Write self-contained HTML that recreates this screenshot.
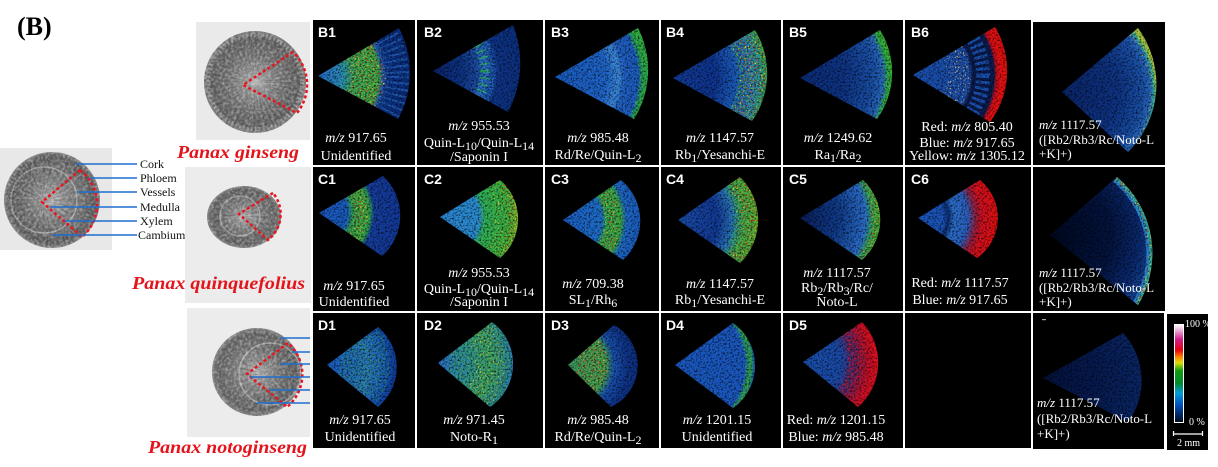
<!DOCTYPE html>
<html><head><meta charset="utf-8"><style>
html,body{margin:0;padding:0;background:#fff;}
svg{display:block;}
.c{fill:#fff;font-size:14px;font-family:"Liberation Serif",serif;}
.m{text-anchor:middle;}
.i{font-style:italic;}
.lb{font-family:"Liberation Sans",sans-serif;font-weight:bold;font-size:14px;fill:#fff;}
.sp{font-family:"Liberation Serif",serif;font-weight:bold;font-style:italic;font-size:18px;fill:#e3141b;}
.tl{font-family:"Liberation Serif",serif;font-size:12px;fill:#111;}
</style></head><body>
<svg width="1218" height="467" viewBox="0 0 1218 467" xmlns="http://www.w3.org/2000/svg">
<defs>
<filter id="dk" filterUnits="userSpaceOnUse" x="0" y="0" width="1218" height="467" color-interpolation-filters="sRGB">
<feTurbulence type="fractalNoise" baseFrequency="0.55" numOctaves="2" seed="2" result="n"/>
<feColorMatrix in="n" type="matrix" values="0 0 0 0 0  0 0 0 0 0  0 0 0 0 0  2.1 0 0 0 -0.95" result="a"/>
<feComposite in="SourceGraphic" in2="a" operator="in"/>
</filter>
<filter id="lt" filterUnits="userSpaceOnUse" x="0" y="0" width="1218" height="467" color-interpolation-filters="sRGB">
<feTurbulence type="fractalNoise" baseFrequency="0.35" numOctaves="2" seed="9" result="n"/>
<feColorMatrix in="n" type="matrix" values="0 0 0 0 0  0 0 0 0 0  0 0 0 0 0  2.0 0 0 0 -0.8" result="a"/>
<feComposite in="SourceGraphic" in2="a" operator="in"/>
</filter>
<filter id="hot" filterUnits="userSpaceOnUse" x="0" y="0" width="1218" height="467" color-interpolation-filters="sRGB">
<feTurbulence type="fractalNoise" baseFrequency="0.6" numOctaves="1" seed="7" result="n"/>
<feColorMatrix in="n" type="matrix" values="0 0 0 0 0  0 0 0 0 0  0 0 0 0 0  8 0 0 0 -4.8" result="a"/>
<feComposite in="SourceGraphic" in2="a" operator="in"/>
</filter>
<filter id="hot2" filterUnits="userSpaceOnUse" x="0" y="0" width="1218" height="467" color-interpolation-filters="sRGB">
<feTurbulence type="fractalNoise" baseFrequency="0.6" numOctaves="1" seed="11" result="n"/>
<feColorMatrix in="n" type="matrix" values="0 0 0 0 0  0 0 0 0 0  0 0 0 0 0  8 0 0 0 -4.9" result="a"/>
<feComposite in="SourceGraphic" in2="a" operator="in"/>
</filter>
<filter id="med" filterUnits="userSpaceOnUse" x="0" y="0" width="1218" height="467" color-interpolation-filters="sRGB">
<feTurbulence type="fractalNoise" baseFrequency="0.5" numOctaves="1" seed="4" result="n"/>
<feColorMatrix in="n" type="matrix" values="0 0 0 0 0  0 0 0 0 0  0 0 0 0 0  5 0 0 0 -2.4" result="a"/>
<feComposite in="SourceGraphic" in2="a" operator="in"/>
</filter>

<radialGradient id="ph" cx="0.5" cy="0.5" r="0.5">
<stop offset="0" stop-color="#b0b0b0"/><stop offset="0.25" stop-color="#8e8e8e"/><stop offset="0.6" stop-color="#6c6c6c"/><stop offset="0.88" stop-color="#5c5c5c"/><stop offset="1" stop-color="#808080"/>
</radialGradient>

<linearGradient id="cbar" x1="0" y1="0" x2="0" y2="1">
<stop offset="0" stop-color="#ffffff"/><stop offset="0.07" stop-color="#e8a0d0"/><stop offset="0.15" stop-color="#d0208a"/><stop offset="0.26" stop-color="#e80010"/><stop offset="0.33" stop-color="#ff8000"/><stop offset="0.39" stop-color="#e0e000"/><stop offset="0.47" stop-color="#10a010"/><stop offset="0.6" stop-color="#008a30"/><stop offset="0.7" stop-color="#00a0d8"/><stop offset="0.82" stop-color="#0050c0"/><stop offset="1" stop-color="#000818"/>
</linearGradient>

<radialGradient id="gB1" gradientUnits="userSpaceOnUse" cx="318" cy="76" r="93"><stop offset="0" stop-color="#2468c8"/><stop offset="0.25" stop-color="#2a8ab8"/><stop offset="0.4" stop-color="#38a858"/><stop offset="0.65" stop-color="#3aa84a"/><stop offset="0.7" stop-color="#1a58b8"/><stop offset="0.76" stop-color="#0c3288"/><stop offset="1" stop-color="#0a2c7c"/></radialGradient>
<radialGradient id="gB2" gradientUnits="userSpaceOnUse" cx="433" cy="71" r="88"><stop offset="0" stop-color="#0a2470"/><stop offset="0.35" stop-color="#0e3484"/><stop offset="0.5" stop-color="#1a4aa0"/><stop offset="0.58" stop-color="#2a6cc0"/><stop offset="0.66" stop-color="#1a50a8"/><stop offset="0.75" stop-color="#0e3488"/><stop offset="1" stop-color="#0c3080"/></radialGradient>
<radialGradient id="gB3" gradientUnits="userSpaceOnUse" cx="555" cy="77" r="93"><stop offset="0" stop-color="#1a5cc0"/><stop offset="0.55" stop-color="#1e64c8"/><stop offset="0.68" stop-color="#3a84d8"/><stop offset="0.75" stop-color="#2060c4"/><stop offset="0.9" stop-color="#1c5cc0"/><stop offset="0.95" stop-color="#28a050"/><stop offset="1" stop-color="#30b040"/></radialGradient>
<radialGradient id="gB4" gradientUnits="userSpaceOnUse" cx="673" cy="78" r="94"><stop offset="0" stop-color="#123c98"/><stop offset="0.45" stop-color="#0e3490"/><stop offset="0.65" stop-color="#1a58b8"/><stop offset="0.85" stop-color="#2a78c0"/><stop offset="0.93" stop-color="#2c90a0"/><stop offset="1" stop-color="#30a050"/></radialGradient>
<radialGradient id="gB5" gradientUnits="userSpaceOnUse" cx="800" cy="78" r="92"><stop offset="0" stop-color="#0c2c7a"/><stop offset="0.5" stop-color="#0e3484"/><stop offset="0.8" stop-color="#1a50a8"/><stop offset="0.92" stop-color="#2a6cc0"/><stop offset="0.96" stop-color="#30b040"/><stop offset="1" stop-color="#38b030"/></radialGradient>
<radialGradient id="gB6" gradientUnits="userSpaceOnUse" cx="913" cy="75" r="94"><stop offset="0" stop-color="#1a50b0"/><stop offset="0.6" stop-color="#1a4ca8"/><stop offset="0.64" stop-color="#0a1a48"/><stop offset="0.86" stop-color="#0a1c50"/><stop offset="0.89" stop-color="#c01020"/><stop offset="0.93" stop-color="#e81010"/><stop offset="1" stop-color="#e01010"/></radialGradient>
<radialGradient id="gB7" gradientUnits="userSpaceOnUse" cx="1062" cy="92" r="95"><stop offset="0" stop-color="#0a2468"/><stop offset="0.6" stop-color="#0e3484"/><stop offset="0.85" stop-color="#1a50a8"/><stop offset="0.94" stop-color="#2a6cc0"/><stop offset="0.97" stop-color="#30b0a0"/><stop offset="1" stop-color="#a0c040"/></radialGradient>

<radialGradient id="gC1" gradientUnits="userSpaceOnUse" cx="319" cy="213" r="81"><stop offset="0" stop-color="#1a58c0"/><stop offset="0.35" stop-color="#1a5cc0"/><stop offset="0.42" stop-color="#30a050"/><stop offset="0.55" stop-color="#40b040"/><stop offset="0.63" stop-color="#30a050"/><stop offset="0.68" stop-color="#163e9c"/><stop offset="1" stop-color="#12389a"/></radialGradient>
<radialGradient id="gC2" gradientUnits="userSpaceOnUse" cx="440" cy="217" r="78"><stop offset="0" stop-color="#2a84d4"/><stop offset="0.5" stop-color="#2a8cd0"/><stop offset="0.58" stop-color="#30b058"/><stop offset="0.9" stop-color="#38b040"/><stop offset="1" stop-color="#80c030"/></radialGradient>
<radialGradient id="gC3" gradientUnits="userSpaceOnUse" cx="563" cy="220" r="77"><stop offset="0" stop-color="#1a60c8"/><stop offset="0.5" stop-color="#1e6cc8"/><stop offset="0.57" stop-color="#30a850"/><stop offset="0.75" stop-color="#38a848"/><stop offset="0.82" stop-color="#1e68c4"/><stop offset="1" stop-color="#1a5cc0"/></radialGradient>
<radialGradient id="gC4" gradientUnits="userSpaceOnUse" cx="678" cy="220" r="80"><stop offset="0" stop-color="#1a4ca8"/><stop offset="0.5" stop-color="#123a98"/><stop offset="0.7" stop-color="#2a78b8"/><stop offset="0.82" stop-color="#40a848"/><stop offset="1" stop-color="#60b030"/></radialGradient>
<radialGradient id="gC5" gradientUnits="userSpaceOnUse" cx="800" cy="218" r="80"><stop offset="0" stop-color="#0a1e5c"/><stop offset="0.5" stop-color="#103c8c"/><stop offset="0.82" stop-color="#2a6cc8"/><stop offset="0.9" stop-color="#30a060"/><stop offset="1" stop-color="#40b030"/></radialGradient>
<radialGradient id="gC6" gradientUnits="userSpaceOnUse" cx="918" cy="218" r="80"><stop offset="0" stop-color="#1a54b8"/><stop offset="0.32" stop-color="#1a54b8"/><stop offset="0.38" stop-color="#0c2c70"/><stop offset="0.45" stop-color="#2a6cc8"/><stop offset="0.62" stop-color="#2a60c0"/><stop offset="0.72" stop-color="#902040"/><stop offset="0.8" stop-color="#d01020"/><stop offset="1" stop-color="#e01010"/></radialGradient>
<radialGradient id="gC7" gradientUnits="userSpaceOnUse" cx="1050" cy="235" r="112"><stop offset="0" stop-color="#000820"/><stop offset="0.55" stop-color="#041440"/><stop offset="0.8" stop-color="#0a2a70"/><stop offset="1" stop-color="#1a50a8"/></radialGradient>

<radialGradient id="gD1" gradientUnits="userSpaceOnUse" cx="327" cy="365" r="70"><stop offset="0" stop-color="#1a5cc0"/><stop offset="0.4" stop-color="#2068c0"/><stop offset="0.6" stop-color="#2a78c0"/><stop offset="0.8" stop-color="#1a5cc0"/><stop offset="1" stop-color="#0e3c98"/></radialGradient>
<radialGradient id="gD2" gradientUnits="userSpaceOnUse" cx="438" cy="363" r="75"><stop offset="0" stop-color="#2a70c8"/><stop offset="0.4" stop-color="#2e90a0"/><stop offset="0.7" stop-color="#38a070"/><stop offset="1" stop-color="#2a80b0"/></radialGradient>
<radialGradient id="gD3" gradientUnits="userSpaceOnUse" cx="568" cy="365" r="75"><stop offset="0" stop-color="#3a9a60"/><stop offset="0.5" stop-color="#40a050"/><stop offset="0.62" stop-color="#1a50b0"/><stop offset="0.8" stop-color="#0e3488"/><stop offset="1" stop-color="#0a2c80"/></radialGradient>
<radialGradient id="gD4" gradientUnits="userSpaceOnUse" cx="675" cy="365" r="80"><stop offset="0" stop-color="#1a58c0"/><stop offset="0.88" stop-color="#1a58c0"/><stop offset="0.94" stop-color="#30a050"/><stop offset="1" stop-color="#1a58c0"/></radialGradient>
<radialGradient id="gD5" gradientUnits="userSpaceOnUse" cx="803" cy="362" r="75"><stop offset="0" stop-color="#1a50b0"/><stop offset="0.5" stop-color="#1a4aa8"/><stop offset="0.7" stop-color="#50286a"/><stop offset="0.88" stop-color="#c01028"/><stop offset="1" stop-color="#e81020"/></radialGradient>
<radialGradient id="gD7" gradientUnits="userSpaceOnUse" cx="1043" cy="378" r="105"><stop offset="0" stop-color="#04123c"/><stop offset="0.5" stop-color="#061a50"/><stop offset="1" stop-color="#0a2868"/></radialGradient>

<clipPath id="kB1"><path d="M318,76 L399,28 A96,96 0 0 1 398,119 Z"/></clipPath>
<clipPath id="kB2"><path d="M433,71 L513,25 A104,104 0 0 1 508,112 Z"/></clipPath>
<clipPath id="kB3"><path d="M555,77 L638,28 A92,92 0 0 1 634,119 Z"/></clipPath>
<clipPath id="kB4"><path d="M673,78 L755,30 A83,83 0 0 1 752,121 Z"/></clipPath>
<clipPath id="kB5"><path d="M800,78 L880,30 A80,80 0 0 1 877,119 Z"/></clipPath>
<clipPath id="kB6"><path d="M913,75 L995,27 A85,85 0 0 1 990,122 Z"/></clipPath>
<clipPath id="kB7"><path d="M1062,92 L1138,28 A95,95 0 0 1 1128,152 Z"/></clipPath>
<clipPath id="kC1"><path d="M319,213 L383,176 A54,54 0 0 1 382,256 Z"/></clipPath>
<clipPath id="kC2"><path d="M440,217 L500,180 A51,51 0 0 1 500,258 Z"/></clipPath>
<clipPath id="kC3"><path d="M563,220 L621,180 A53,53 0 0 1 623,260 Z"/></clipPath>
<clipPath id="kC4"><path d="M678,220 L740,177 A60,60 0 0 1 740,263 Z"/></clipPath>
<clipPath id="kC5"><path d="M800,218 L863,180 A54,54 0 0 1 862,260 Z"/></clipPath>
<clipPath id="kC6"><path d="M918,218 L980,180 A49,49 0 0 1 977,258 Z"/></clipPath>
<clipPath id="kC7"><path d="M1050,235 L1117,177 A100,100 0 0 1 1138,305 Z"/></clipPath>
<clipPath id="kD1"><path d="M327,365 L378,327 A52,52 0 0 1 378,407 Z"/></clipPath>
<clipPath id="kD2"><path d="M438,363 L492,322 A52,52 0 0 1 490,407 Z"/></clipPath>
<clipPath id="kD3"><path d="M568,365 L614,325 A46,46 0 0 1 611,407 Z"/></clipPath>
<clipPath id="kD4"><path d="M675,365 L733,323 A52,52 0 0 1 733,408 Z"/></clipPath>
<clipPath id="kD5"><path d="M803,362 L862,322 A59,59 0 0 1 858,407 Z"/></clipPath>
<clipPath id="kD7"><path d="M1043,378 L1123,333 A70,70 0 0 1 1128,422 Z"/></clipPath>

<clipPath id="p1"><circle cx="255" cy="82" r="51"/></clipPath>
<clipPath id="p2"><circle cx="52" cy="200" r="48"/></clipPath>
<clipPath id="p3"><ellipse cx="244" cy="217" rx="37" ry="31"/></clipPath>
<clipPath id="p4"><ellipse cx="257" cy="372" rx="45" ry="44"/></clipPath>
</defs>

<rect width="1218" height="467" fill="#fff"/>

<text x="17" y="35" font-family="Liberation Serif, serif" font-weight="bold" font-size="26" fill="#000">(B)</text>

<!-- top ginseng -->
<rect x="196" y="22" width="114" height="118" fill="#eaeaea"/>
<circle cx="255" cy="82" r="51" fill="url(#ph)"/>
<g clip-path="url(#p1)">
<circle cx="255" cy="82" r="28" fill="none" stroke="#303030" stroke-opacity="0.22" stroke-width="46" stroke-dasharray="1.5 2.5"/>
<circle cx="255" cy="82" r="47" fill="none" stroke="#b0b0b0" stroke-opacity="0.45" stroke-width="4" stroke-dasharray="2 2"/>
<rect x="196" y="22" width="114" height="118" fill="#fff" opacity="0.45" filter="url(#lt)"/>
</g>
<path d="M293,52 L243,85 L297,113 A45,45 0 0 0 293,52" fill="none" stroke="#e8141e" stroke-width="2.5" stroke-dasharray="3 2.5"/>
<text class="sp" x="177" y="158" textLength="122" lengthAdjust="spacingAndGlyphs">Panax ginseng</text>

<!-- left labeled -->
<rect x="0" y="148" width="112" height="102" fill="#e8e8e8"/>
<circle cx="52" cy="200" r="48" fill="url(#ph)"/>
<g clip-path="url(#p2)">
<circle cx="44" cy="200" r="18" fill="none" stroke="#303030" stroke-opacity="0.22" stroke-width="32" stroke-dasharray="1.5 2.5"/>
<circle cx="44" cy="200" r="33" fill="none" stroke="#c8c8c8" stroke-opacity="0.55" stroke-width="1.5"/>
<circle cx="52" cy="200" r="42" fill="none" stroke="#333" stroke-opacity="0.25" stroke-width="10" stroke-dasharray="1.5 2"/>
<rect x="0" y="148" width="112" height="102" fill="#fff" opacity="0.45" filter="url(#lt)"/>
</g>
<path d="M80,170 L42,202 L82,237 A43,43 0 0 0 80,170" fill="none" stroke="#e8141e" stroke-width="2.5" stroke-dasharray="3 2.5"/>
<g stroke="#1e6fd0" stroke-width="1.6">
<line x1="76" y1="164" x2="137" y2="164"/>
<line x1="90" y1="178" x2="137" y2="178"/>
<line x1="77" y1="192" x2="137" y2="192"/>
<line x1="50" y1="207" x2="137" y2="207"/>
<line x1="65" y1="221" x2="137" y2="221"/>
<line x1="52" y1="235" x2="137" y2="235"/>
</g>
<text class="tl" x="140" y="168">Cork</text>
<text class="tl" x="140" y="182">Phloem</text>
<text class="tl" x="140" y="196">Vessels</text>
<text class="tl" x="140" y="211">Medulla</text>
<text class="tl" x="140" y="225">Xylem</text>
<text class="tl" x="138" y="239">Cambium</text>

<!-- quinquefolius -->
<rect x="185" y="167" width="126" height="136" fill="#ececec"/>
<ellipse cx="244" cy="217" rx="37" ry="31" fill="url(#ph)"/>
<g clip-path="url(#p3)">
<circle cx="240" cy="216" r="14" fill="none" stroke="#303030" stroke-opacity="0.22" stroke-width="24" stroke-dasharray="1.5 2.5"/>
<circle cx="240" cy="216" r="20" fill="none" stroke="#c8c8c8" stroke-opacity="0.5" stroke-width="1.5"/>
<rect x="185" y="167" width="126" height="136" fill="#fff" opacity="0.45" filter="url(#lt)"/>
</g>
<path d="M273,193 L239,214 L268,240 A33,33 0 0 0 273,193" fill="none" stroke="#e8141e" stroke-width="2.5" stroke-dasharray="3 2.5"/>
<text class="sp" x="132" y="289" textLength="173" lengthAdjust="spacingAndGlyphs">Panax quinquefolius</text>

<!-- notoginseng -->
<rect x="187" y="308" width="123" height="129" fill="#ececec"/>
<ellipse cx="257" cy="372" rx="45" ry="44" fill="url(#ph)"/>
<g clip-path="url(#p4)">
<circle cx="268" cy="374" r="17" fill="none" stroke="#303030" stroke-opacity="0.22" stroke-width="30" stroke-dasharray="1.5 2.5"/>
<circle cx="270" cy="374" r="31" fill="none" stroke="#c8c8c8" stroke-opacity="0.55" stroke-width="1.5"/>
<rect x="187" y="308" width="123" height="129" fill="#fff" opacity="0.45" filter="url(#lt)"/>
</g>
<path d="M288,343 L247,374 L287,407 A42,42 0 0 0 288,343" fill="none" stroke="#e8141e" stroke-width="2.5" stroke-dasharray="3 2.5"/>
<g stroke="#1e6fd0" stroke-width="1.6">
<line x1="280" y1="338" x2="310" y2="338"/>
<line x1="292" y1="352" x2="310" y2="352"/>
<line x1="280" y1="364" x2="310" y2="364"/>
<line x1="250" y1="377" x2="310" y2="377"/>
<line x1="270" y1="390" x2="310" y2="390"/>
<line x1="257" y1="403" x2="310" y2="403"/>
</g>
<text class="sp" x="148" y="453" textLength="159" lengthAdjust="spacingAndGlyphs">Panax notoginseng</text>

<!-- Panels -->
<g fill="#000">
<rect x="313" y="20" width="102" height="145"/>
<rect x="417" y="20" width="126" height="145"/>
<rect x="545" y="20" width="114" height="145"/>
<rect x="661" y="20" width="120" height="145"/>
<rect x="783" y="20" width="120" height="145"/>
<rect x="905" y="20" width="126" height="145"/>
<rect x="1033" y="22" width="132" height="143"/>

<rect x="313" y="167" width="102" height="144"/>
<rect x="417" y="167" width="126" height="144"/>
<rect x="545" y="167" width="114" height="144"/>
<rect x="661" y="167" width="120" height="144"/>
<rect x="783" y="167" width="120" height="144"/>
<rect x="905" y="167" width="126" height="144"/>
<rect x="1033" y="167" width="132" height="144"/>

<rect x="313" y="313" width="102" height="135"/>
<rect x="417" y="313" width="126" height="135"/>
<rect x="545" y="313" width="114" height="135"/>
<rect x="661" y="313" width="120" height="135"/>
<rect x="783" y="313" width="120" height="135"/>
<rect x="905" y="313" width="126" height="135"/>
<rect x="1033" y="313" width="131" height="136"/>
<rect x="1167" y="314" width="41" height="136"/>
</g>

<!-- Row B wedges -->
<g clip-path="url(#kB1)">
<rect x="313" y="20" width="102" height="145" fill="url(#gB1)"/>
<circle cx="318" cy="76" r="80" fill="none" stroke="#2a72c8" stroke-opacity="0.6" stroke-width="22" stroke-dasharray="2 4"/>
<circle cx="318" cy="76" r="50" fill="none" stroke="#e8d020" stroke-width="36" filter="url(#hot)"/>
<circle cx="318" cy="76" r="50" fill="none" stroke="#e83020" stroke-width="36" filter="url(#hot2)"/>
<rect x="313" y="20" width="102" height="145" fill="#000" filter="url(#dk)"/>
</g>
<g clip-path="url(#kB2)">
<rect x="417" y="20" width="126" height="145" fill="url(#gB2)"/>
<circle cx="433" cy="71" r="52" fill="none" stroke="#2ab060" stroke-width="10" stroke-dasharray="1.5 5"/>
<circle cx="433" cy="71" r="56" fill="none" stroke="#3a90e0" stroke-width="14" filter="url(#med)" opacity="0.6"/>
<rect x="417" y="20" width="126" height="145" fill="#000" filter="url(#dk)"/>
</g>
<g clip-path="url(#kB3)">
<rect x="545" y="20" width="114" height="145" fill="url(#gB3)"/>
<circle cx="555" cy="77" r="62" fill="none" stroke="#3a8ad8" stroke-opacity="0.6" stroke-width="8" stroke-dasharray="2 3"/>
<circle cx="555" cy="77" r="88" fill="none" stroke="#30b040" stroke-width="8" filter="url(#med)"/>
<rect x="545" y="20" width="114" height="145" fill="#000" filter="url(#dk)"/>
</g>
<g clip-path="url(#kB4)">
<rect x="661" y="20" width="120" height="145" fill="url(#gB4)"/>
<circle cx="673" cy="78" r="80" fill="none" stroke="#30a850" stroke-width="30" filter="url(#med)" opacity="0.8"/>
<circle cx="673" cy="78" r="80" fill="none" stroke="#e0d020" stroke-width="30" filter="url(#hot)"/>
<circle cx="673" cy="78" r="82" fill="none" stroke="#e03020" stroke-width="24" filter="url(#hot2)"/>
<rect x="661" y="20" width="120" height="145" fill="#000" filter="url(#dk)"/>
</g>
<g clip-path="url(#kB5)">
<rect x="783" y="20" width="120" height="145" fill="url(#gB5)"/>
<circle cx="800" cy="78" r="88" fill="none" stroke="#30b040" stroke-width="10" filter="url(#med)"/>
<rect x="783" y="20" width="120" height="145" fill="#000" filter="url(#dk)"/>
</g>
<g clip-path="url(#kB6)">
<rect x="905" y="20" width="126" height="145" fill="url(#gB6)"/>
<circle cx="913" cy="75" r="70" fill="none" stroke="#1a50b0" stroke-width="14" stroke-dasharray="3 3"/>
<circle cx="913" cy="75" r="46" fill="none" stroke="#e8d090" stroke-width="24" filter="url(#hot)"/>
<rect x="905" y="20" width="126" height="145" fill="#000" filter="url(#dk)"/>
</g>
<g clip-path="url(#kB7)">
<rect x="1033" y="22" width="132" height="143" fill="url(#gB7)"/>
<circle cx="1062" cy="92" r="92" fill="none" stroke="#e0d020" stroke-width="8" filter="url(#hot)"/>
<rect x="1033" y="22" width="132" height="143" fill="#000" filter="url(#dk)"/>
</g>

<!-- Row C wedges -->
<g clip-path="url(#kC1)">
<rect x="313" y="167" width="102" height="144" fill="url(#gC1)"/>
<circle cx="319" cy="213" r="42" fill="none" stroke="#e8d020" stroke-width="14" filter="url(#hot)"/>
<circle cx="319" cy="213" r="42" fill="none" stroke="#e02060" stroke-width="14" filter="url(#hot2)"/>
<rect x="313" y="167" width="102" height="144" fill="#000" filter="url(#dk)"/>
</g>
<g clip-path="url(#kC2)">
<rect x="417" y="167" width="126" height="144" fill="url(#gC2)"/>
<circle cx="440" cy="217" r="66" fill="none" stroke="#e8d020" stroke-width="22" filter="url(#hot)"/>
<circle cx="440" cy="217" r="72" fill="none" stroke="#e03020" stroke-width="10" filter="url(#hot2)"/>
<rect x="417" y="167" width="126" height="144" fill="#000" filter="url(#dk)"/>
</g>
<g clip-path="url(#kC3)">
<rect x="545" y="167" width="114" height="144" fill="url(#gC3)"/>
<circle cx="563" cy="220" r="50" fill="none" stroke="#e8d020" stroke-width="16" filter="url(#hot)"/>
<circle cx="563" cy="220" r="50" fill="none" stroke="#e03020" stroke-width="14" filter="url(#hot2)"/>
<rect x="545" y="167" width="114" height="144" fill="#000" filter="url(#dk)"/>
</g>
<g clip-path="url(#kC4)">
<rect x="661" y="167" width="120" height="144" fill="url(#gC4)"/>
<circle cx="678" cy="220" r="66" fill="none" stroke="#30a850" stroke-width="22" filter="url(#med)"/>
<circle cx="678" cy="220" r="70" fill="none" stroke="#e8d020" stroke-width="22" filter="url(#hot)"/>
<circle cx="678" cy="220" r="72" fill="none" stroke="#e02020" stroke-width="18" filter="url(#hot2)"/>
<rect x="661" y="167" width="120" height="144" fill="#000" filter="url(#dk)"/>
</g>
<g clip-path="url(#kC5)">
<rect x="783" y="167" width="120" height="144" fill="url(#gC5)"/>
<circle cx="800" cy="218" r="76" fill="none" stroke="#e8d020" stroke-width="10" filter="url(#hot)"/>
<circle cx="800" cy="218" r="76" fill="none" stroke="#e03020" stroke-width="10" filter="url(#hot2)"/>
<rect x="783" y="167" width="120" height="144" fill="#000" filter="url(#dk)"/>
</g>
<g clip-path="url(#kC6)">
<rect x="905" y="167" width="126" height="144" fill="url(#gC6)"/>
<rect x="905" y="167" width="126" height="144" fill="#000" filter="url(#dk)"/>
</g>
<g clip-path="url(#kC7)">
<rect x="1033" y="167" width="132" height="144" fill="url(#gC7)"/>
<path d="M1117,177 A100,100 0 0 1 1138,305" fill="none" stroke="#2a80d0" stroke-width="12"/>
<path d="M1117,177 A100,100 0 0 1 1138,305" fill="none" stroke="#30b0a0" stroke-width="6"/>
<path d="M1117,177 A100,100 0 0 1 1138,305" fill="none" stroke="#e8d020" stroke-width="8" filter="url(#hot)"/>
<path d="M1117,177 A100,100 0 0 1 1138,305" fill="none" stroke="#e03020" stroke-width="8" filter="url(#hot2)"/>
<rect x="1033" y="167" width="132" height="144" fill="#000" filter="url(#dk)"/>
</g>

<!-- Row D wedges -->
<g clip-path="url(#kD1)">
<rect x="313" y="313" width="102" height="135" fill="url(#gD1)"/>
<circle cx="327" cy="365" r="38" fill="none" stroke="#30a050" stroke-width="50" filter="url(#med)" opacity="0.6"/>
<rect x="313" y="313" width="102" height="135" fill="#000" filter="url(#dk)"/>
</g>
<g clip-path="url(#kD2)">
<rect x="417" y="313" width="126" height="135" fill="url(#gD2)"/>
<circle cx="438" cy="363" r="42" fill="none" stroke="#40b040" stroke-width="60" filter="url(#med)" opacity="0.7"/>
<circle cx="438" cy="363" r="52" fill="none" stroke="#e8d020" stroke-width="30" filter="url(#hot)"/>
<rect x="417" y="313" width="126" height="135" fill="#000" filter="url(#dk)"/>
</g>
<g clip-path="url(#kD3)">
<rect x="545" y="313" width="114" height="135" fill="url(#gD3)"/>
<circle cx="568" cy="365" r="25" fill="none" stroke="#e0b030" stroke-width="30" filter="url(#hot)"/>
<circle cx="568" cy="365" r="25" fill="none" stroke="#e03020" stroke-width="30" filter="url(#hot2)"/>
<rect x="545" y="313" width="114" height="135" fill="#000" filter="url(#dk)"/>
</g>
<g clip-path="url(#kD4)">
<rect x="661" y="313" width="120" height="135" fill="url(#gD4)"/>
<circle cx="675" cy="365" r="74" fill="none" stroke="#30b040" stroke-width="8" filter="url(#med)"/>
<rect x="661" y="313" width="120" height="135" fill="#000" filter="url(#dk)"/>
</g>
<g clip-path="url(#kD5)">
<rect x="783" y="313" width="120" height="135" fill="url(#gD5)"/>
<circle cx="803" cy="362" r="60" fill="none" stroke="#d01020" stroke-width="30" filter="url(#med)"/>
<rect x="783" y="313" width="120" height="135" fill="#000" filter="url(#dk)"/>
</g>
<g clip-path="url(#kD7)">
<rect x="1033" y="313" width="131" height="136" fill="url(#gD7)"/>
<rect x="1033" y="313" width="131" height="136" fill="#000" filter="url(#dk)"/>
</g>
<rect x="1042" y="319" width="4" height="1.2" fill="#aaa"/>

<!-- Panel labels -->
<text class="lb" x="318" y="37">B1</text>
<text class="lb" x="424" y="37">B2</text>
<text class="lb" x="551" y="37">B3</text>
<text class="lb" x="666" y="37">B4</text>
<text class="lb" x="789" y="37">B5</text>
<text class="lb" x="911" y="37">B6</text>
<text class="lb" x="318" y="184">C1</text>
<text class="lb" x="424" y="184">C2</text>
<text class="lb" x="551" y="184">C3</text>
<text class="lb" x="666" y="184">C4</text>
<text class="lb" x="789" y="184">C5</text>
<text class="lb" x="911" y="184">C6</text>
<text class="lb" x="318" y="330">D1</text>
<text class="lb" x="424" y="330">D2</text>
<text class="lb" x="551" y="330">D3</text>
<text class="lb" x="666" y="330">D4</text>
<text class="lb" x="789" y="330">D5</text>

<!-- Row B captions -->
<text class="c m" x="356" y="142"><tspan class="i">m/z</tspan> 917.65</text>
<text class="c m" x="356" y="160">Unidentified</text>

<text class="c m" x="479" y="130"><tspan class="i">m/z</tspan> 955.53</text>
<text class="c m" x="479" y="147">Quin-L<tspan dy="3" font-size="12">10</tspan><tspan dy="-3">/Quin-L</tspan><tspan dy="3" font-size="12">14</tspan></text>
<text class="c m" x="479" y="161">/Saponin I</text>

<text class="c m" x="598" y="142"><tspan class="i">m/z</tspan> 985.48</text>
<text class="c m" x="598" y="159">Rd/Re/Quin-L<tspan dy="3" font-size="12">2</tspan></text>

<text class="c m" x="720" y="142"><tspan class="i">m/z</tspan> 1147.57</text>
<text class="c m" x="720" y="159">Rb<tspan dy="3" font-size="12">1</tspan><tspan dy="-3">/Yesanchi-E</tspan></text>

<text class="c m" x="838" y="142"><tspan class="i">m/z</tspan> 1249.62</text>
<text class="c m" x="838" y="159">Ra<tspan dy="3" font-size="12">1</tspan><tspan dy="-3">/Ra</tspan><tspan dy="3" font-size="12">2</tspan></text>

<text class="c m" x="967" y="131">Red: <tspan class="i">m/z</tspan> 805.40</text>
<text class="c m" x="967" y="147">Blue: <tspan class="i">m/z</tspan> 917.65</text>
<text class="c m" x="967" y="160">Yellow: <tspan class="i">m/z</tspan> 1305.12</text>

<text class="c" x="1039" y="129" style="font-size:13px"><tspan class="i">m/z</tspan> 1117.57</text>
<text class="c" x="1039" y="144" style="font-size:13px" textLength="115" lengthAdjust="spacingAndGlyphs">([Rb2/Rb3/Rc/Noto-L</text>
<text class="c" x="1039" y="158" style="font-size:13px">+K]+)</text>

<!-- Row C captions -->
<text class="c m" x="354" y="290"><tspan class="i">m/z</tspan> 917.65</text>
<text class="c m" x="354" y="306">Unidentified</text>

<text class="c m" x="479" y="277"><tspan class="i">m/z</tspan> 955.53</text>
<text class="c m" x="479" y="293">Quin-L<tspan dy="3" font-size="12">10</tspan><tspan dy="-3">/Quin-L</tspan><tspan dy="3" font-size="12">14</tspan></text>
<text class="c m" x="479" y="306">/Saponin I</text>

<text class="c m" x="593" y="288"><tspan class="i">m/z</tspan> 709.38</text>
<text class="c m" x="593" y="304">SL<tspan dy="3" font-size="12">1</tspan><tspan dy="-3">/Rh</tspan><tspan dy="3" font-size="12">6</tspan></text>

<text class="c m" x="720" y="288"><tspan class="i">m/z</tspan> 1147.57</text>
<text class="c m" x="720" y="304">Rb<tspan dy="3" font-size="12">1</tspan><tspan dy="-3">/Yesanchi-E</tspan></text>

<text class="c m" x="837" y="277"><tspan class="i">m/z</tspan> 1117.57</text>
<text class="c m" x="837" y="292">Rb<tspan dy="3" font-size="12">2</tspan><tspan dy="-3">/Rb</tspan><tspan dy="3" font-size="12">3</tspan><tspan dy="-3">/Rc/</tspan></text>
<text class="c m" x="837" y="306">Noto-L</text>

<text class="c m" x="960" y="287">Red: <tspan class="i">m/z</tspan> 1117.57</text>
<text class="c m" x="960" y="304">Blue: <tspan class="i">m/z</tspan> 917.65</text>

<text class="c" x="1039" y="277" style="font-size:13px"><tspan class="i">m/z</tspan> 1117.57</text>
<text class="c" x="1039" y="292" style="font-size:13px" textLength="115" lengthAdjust="spacingAndGlyphs">([Rb2/Rb3/Rc/Noto-L</text>
<text class="c" x="1039" y="306" style="font-size:13px">+K]+)</text>

<!-- Row D captions -->
<text class="c m" x="360" y="424"><tspan class="i">m/z</tspan> 917.65</text>
<text class="c m" x="360" y="441">Unidentified</text>

<text class="c m" x="474" y="424"><tspan class="i">m/z</tspan> 971.45</text>
<text class="c m" x="474" y="441">Noto-R<tspan dy="3" font-size="12">1</tspan></text>

<text class="c m" x="598" y="424"><tspan class="i">m/z</tspan> 985.48</text>
<text class="c m" x="598" y="441">Rd/Re/Quin-L<tspan dy="3" font-size="12">2</tspan></text>

<text class="c m" x="717" y="424"><tspan class="i">m/z</tspan> 1201.15</text>
<text class="c m" x="717" y="441">Unidentified</text>

<text class="c m" x="836" y="424">Red: <tspan class="i">m/z</tspan> 1201.15</text>
<text class="c m" x="836" y="441">Blue: <tspan class="i">m/z</tspan> 985.48</text>

<text class="c" x="1037" y="407" style="font-size:13px"><tspan class="i">m/z</tspan> 1117.57</text>
<text class="c" x="1037" y="423" style="font-size:13px" textLength="115" lengthAdjust="spacingAndGlyphs">([Rb2/Rb3/Rc/Noto-L</text>
<text class="c" x="1037" y="438" style="font-size:13px">+K]+)</text>

<!-- Colorbar -->
<rect x="1174.5" y="324.5" width="9" height="98" fill="url(#cbar)" stroke="#fff" stroke-width="1"/>
<text x="1185" y="327" font-family="Liberation Serif, serif" font-size="10" fill="#fff">100 %</text>
<text x="1189" y="425" font-family="Liberation Serif, serif" font-size="10" fill="#fff">0 %</text>
<g stroke="#fff" stroke-width="1.2">
<line x1="1173" y1="434" x2="1203" y2="434"/>
<line x1="1173.5" y1="431" x2="1173.5" y2="436"/>
<line x1="1202.5" y1="431" x2="1202.5" y2="436"/>
</g>
<text x="1177" y="446" font-family="Liberation Serif, serif" font-size="10" fill="#fff">2 mm</text>
</svg>
</body></html>
